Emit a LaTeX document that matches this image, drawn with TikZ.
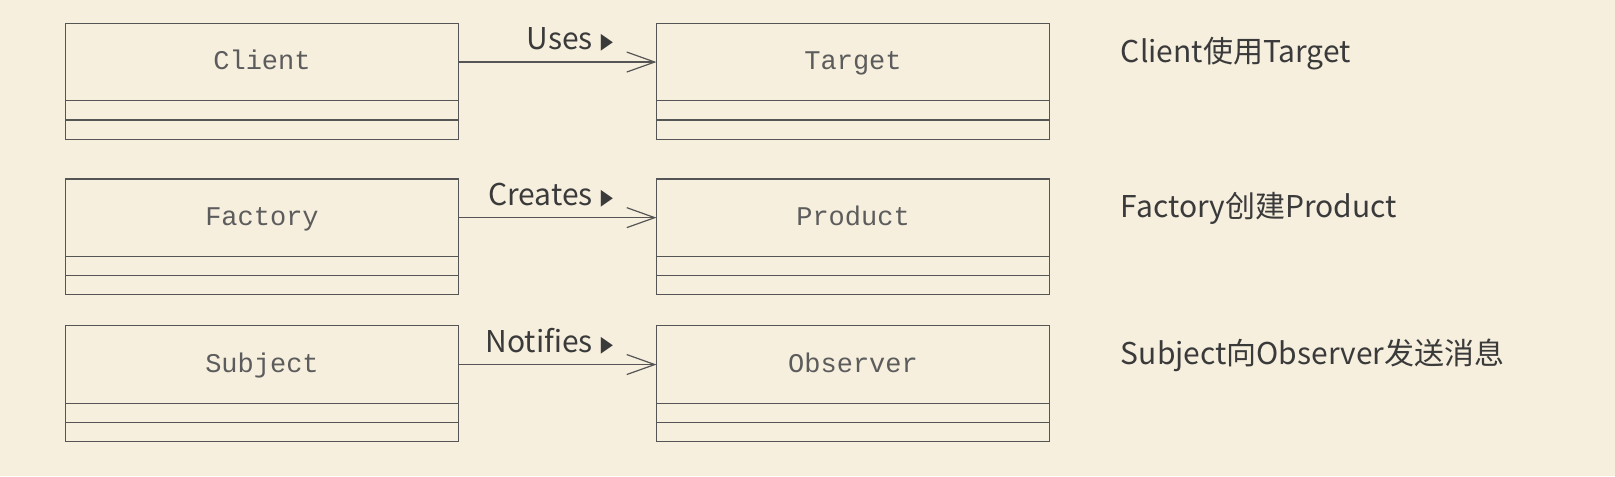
\documentclass[tikz,border=0pt]{standalone}
\usepackage{fontspec}
\setmainfont{Noto Sans CJK SC}
\setmonofont{Liberation Mono}
\newfontfamily\symfont{DejaVu Sans}
\usepackage{xcolor}
\usepackage{tikz}
\usetikzlibrary{arrows.meta, positioning, backgrounds}
\definecolor{paper}{HTML}{F6EFDE}
\definecolor{umlline}{HTML}{555555}
\definecolor{umltext}{HTML}{5C5C5C}
\definecolor{inktext}{HTML}{3A3A3A}
\newcommand{\navtri}{{\symfont\fontsize{11pt}{11pt}\selectfont\raisebox{0.3pt}{\scalebox{0.72}[1]{▶}}}}
\tikzset{
  classname/.style={rectangle, draw=umlline, line width=0.6pt, minimum width=196.5pt, minimum height=38.75pt, inner sep=0pt, outer sep=0pt, text height=7.6pt, text depth=0pt, font=\ttfamily\fontsize{13.5pt}{16pt}\selectfont, text=umltext},
  classpart/.style={rectangle, draw=umlline, line width=0.6pt, minimum width=196.5pt, minimum height=9.6pt, inner sep=0pt, outer sep=0pt},
  assoclabel/.style={anchor=base east, inner sep=0pt, font=\fontsize{15pt}{18pt}\selectfont, text=inktext},
  remark/.style={anchor=base west, inner sep=0pt, font=\fontsize{15pt}{18pt}\selectfont, text=inktext},
  arr/.style={-{Straight Barb[length=14pt, width=10pt]}, line width=0.6pt, draw=umlline},
}

\begin{document}
\begin{tikzpicture}[node distance=99pt]
  % Client uses Target
  \node[classname] (client) {Client};
  \node[classpart, below=0pt of client] (client a) {};
  \node[classpart, below=0pt of client a] (client b) {};
  \node[classname, right=of client] (target) {Target};
  \node[classpart, below=0pt of target] (target a) {};
  \node[classpart, below=0pt of target a] (target b) {};
  \draw[arr] (client) -- (target);
  \node[assoclabel] (uses) at ([xshift=-21.5pt, yshift=6.25pt]target.west) {Uses\hspace{4pt}\navtri};
  \node[remark] (client note) at ([xshift=35.5pt]target.east) {Client使用Target};

  % Factory creates Product
  \node[classname, below=19.85pt of client b] (factory) {Factory};
  \node[classpart, below=0pt of factory] (factory a) {};
  \node[classpart, below=0pt of factory a] (factory b) {};
  \node[classname, right=of factory] (product) {Product};
  \node[classpart, below=0pt of product] (product a) {};
  \node[classpart, below=0pt of product a] (product b) {};
  \draw[arr] (factory) -- (product);
  \node[assoclabel] (creates) at ([xshift=-21.5pt, yshift=6.25pt]product.west) {Creates\hspace{4pt}\navtri};
  \node[remark] (factory note) at ([xshift=35.5pt]product.east) {Factory创建Product};

  % Subject notifies Observer
  \node[classname, below=15.5pt of factory b] (subject) {Subject};
  \node[classpart, below=0pt of subject] (subject a) {};
  \node[classpart, below=0pt of subject a] (subject b) {};
  \node[classname, right=of subject] (observer) {Observer};
  \node[classpart, below=0pt of observer] (observer a) {};
  \node[classpart, below=0pt of observer a] (observer b) {};
  \draw[arr] (subject) -- (observer);
  \node[assoclabel] (notifies) at ([xshift=-21.5pt, yshift=6.25pt]observer.west) {Notifies\hspace{4pt}\navtri};
  \node[remark] (subject note) at ([xshift=35.5pt]observer.east) {Subject向Observer发送消息};

  \begin{scope}[on background layer]
    \fill[paper] ([shift={(-32.75pt,11.65pt)}]client.north west) rectangle ++(807.5pt,-238pt);
  \end{scope}
\end{tikzpicture}
\end{document}
